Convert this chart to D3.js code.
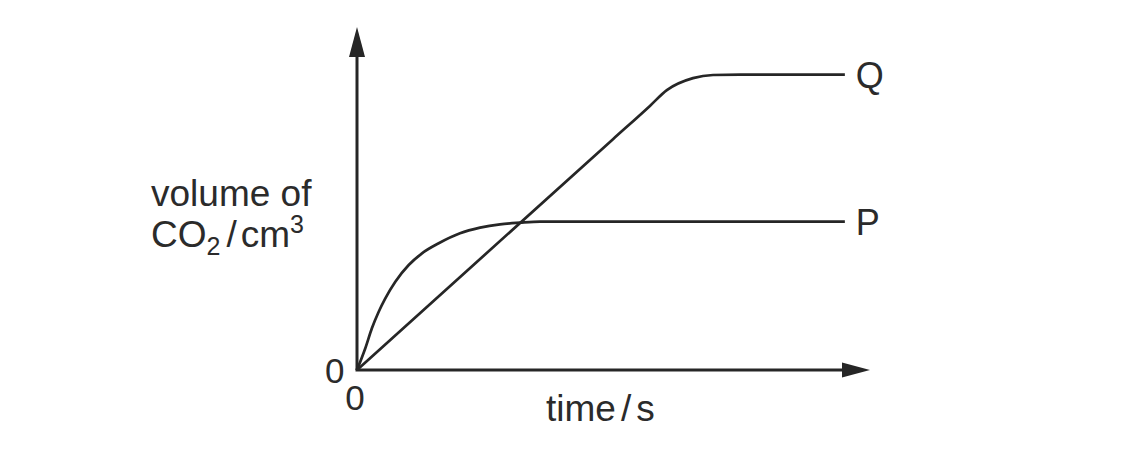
<!DOCTYPE html>
<html><head><meta charset="utf-8">
<script src="https://cdn.jsdelivr.net/npm/d3@7"></script>
<style>body{margin:0;background:#fff}svg{display:block}text{font-family:"Liberation Sans",Arial,sans-serif;fill:#2b2b2b}</style>
</head><body>
<svg id="c" width="1142" height="453"></svg>
<script>
// data (arbitrary units; sketch graph)
const seriesNames = ["P", "Q"];
const pTime = [0, 0.162, 0.292, 0.423, 0.552, 0.747, 1.008, 1.267, 1.593, 2.008, 2.398, 2.788, 3.177, 3.567, 9.51];
const pVol  = [0, 0.633, 1.224, 1.700, 2.090, 2.574, 3.061, 3.402, 3.694, 3.985, 4.149, 4.248, 4.294, 4.324, 4.324];
const qTime = [0, 4.99, 5.71, 6.04, 6.55, 6.94, 7.47, 9.51];
const qVol  = [0, 6.73, 7.70, 8.16, 8.51, 8.60, 8.61, 8.61];
const xTicks = ["0"];
const yTicks = ["0"];
const xMax = 10, yMax = 10;

const svg = d3.select("#c");
const x = d3.scaleLinear().domain([0, xMax]).range([357, 870]);
const y = d3.scaleLinear().domain([0, yMax]).range([370, 27]);
const ink = "#262626";

// axes
svg.append("line").attr("x1", x(0)).attr("y1", y(0)).attr("x2", x(0)).attr("y2", y(yMax) + 20)
  .attr("stroke", ink).attr("stroke-width", 3);
svg.append("line").attr("x1", x(0) - 1.5).attr("y1", y(0)).attr("x2", x(xMax) - 20).attr("y2", y(0))
  .attr("stroke", ink).attr("stroke-width", 3);
// arrowheads
svg.append("path").attr("fill", ink)
  .attr("d", `M${x(0)},${y(yMax)} L${x(0) + 8},${y(yMax) + 30} L${x(0) - 8},${y(yMax) + 30} Z`);
svg.append("path").attr("fill", ink)
  .attr("d", `M${x(xMax)},${y(0)} L${x(xMax) - 28},${y(0) - 7.5} L${x(xMax) - 28},${y(0) + 7.5} Z`);

// curves
const line = d3.line().x(d => x(d[0])).y(d => y(d[1])).curve(d3.curveMonotoneX);
const P = pTime.map((t, i) => [t, pVol[i]]);
const Q = qTime.map((t, i) => [t, qVol[i]]);
[P, Q].forEach(s => svg.append("path").datum(s).attr("d", line)
  .attr("fill", "none").attr("stroke", ink).attr("stroke-width", 2.7).attr("stroke-linejoin", "round"));

// series labels
[[P, seriesNames[0]], [Q, seriesNames[1]]].forEach(([s, n]) => {
  const last = s[s.length - 1];
  svg.append("text").attr("x", x(last[0]) + 11).attr("y", y(last[1]) + 13)
    .attr("font-size", 36).text(n);
});

// tick labels
svg.append("text").attr("x", x(0) - 32).attr("y", y(0) + 13).attr("font-size", 35).text(yTicks[0]);
svg.append("text").attr("x", x(0) - 2).attr("y", y(0) + 40).attr("font-size", 35)
  .attr("text-anchor", "middle").text(xTicks[0]);

// axis titles
const xt = svg.append("text").attr("x", 546).attr("y", 421).attr("font-size", 37);
xt.append("tspan").text("time");
xt.append("tspan").attr("dx", 5).text("/");
xt.append("tspan").attr("dx", 5).text("s");

svg.append("text").attr("x", 151).attr("y", 206).attr("font-size", 37).text("volume of");
const yt = svg.append("text").attr("x", 151).attr("y", 247).attr("font-size", 37);
yt.append("tspan").text("CO");
yt.append("tspan").attr("font-size", 25).attr("dy", 8).text("2");
yt.append("tspan").attr("dy", -8).attr("dx", 6).text("/");
yt.append("tspan").attr("dx", 4).text("cm");
yt.append("tspan").attr("font-size", 25).attr("dy", -14).text("3");
</script>
</body></html>
